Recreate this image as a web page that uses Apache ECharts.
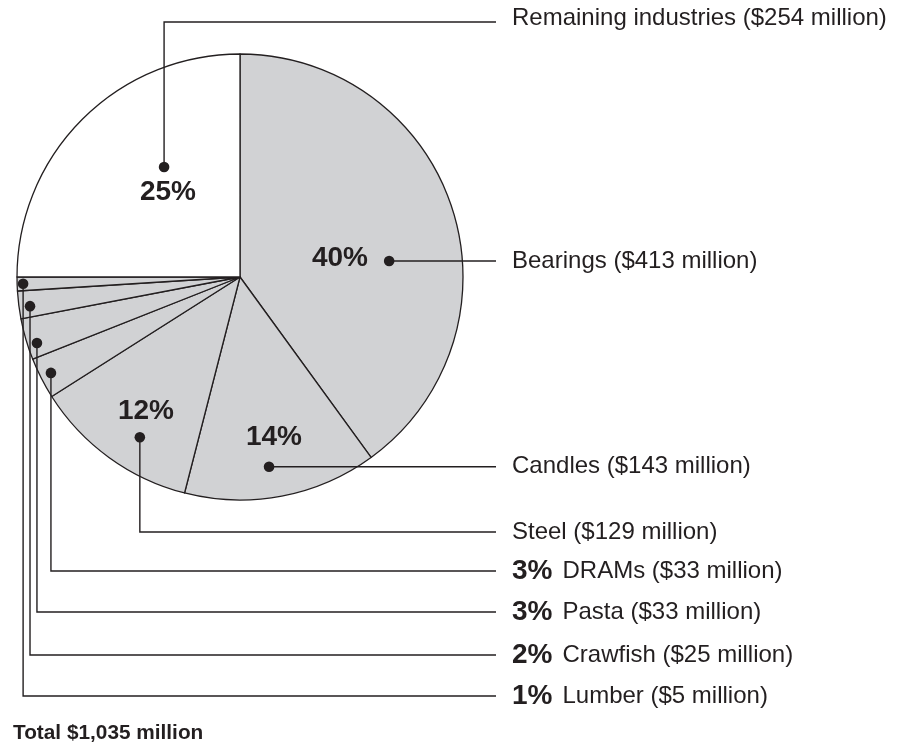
<!DOCTYPE html>
<html><head><meta charset="utf-8">
<script src="https://cdn.jsdelivr.net/npm/echarts@6/dist/echarts.min.js"></script>
<style>html,body{margin:0;padding:0;background:#fff}#c{width:897px;height:746px}</style>
</head><body><div id="c"></div>
<script>
// ---- data ----
const categories = ['Bearings','Candles','Steel','DRAMs','Pasta','Crawfish','Lumber','Remaining industries'];
const millions = [413,143,129,33,33,25,5,254];
const percents = [40,14,12,3,3,2,1,25];
const totalLabel = 'Total $1,035 million';

// ---- layout (annotation placement) ----
const CX = 240, CY = 277, R = 223;
const INK = '#231f20';
const GRAY = '#d1d2d4';
const FONT = '"Liberation Sans", Arial, Helvetica, sans-serif';
const dotPolar = [[83.9,150],[171.3,192],[212,189],[243.1,212],[252,213.5],[262.1,212],[268.2,217],[325.4,133.7]];
const labelLineY = [null,null,532,571,612,655,696,22];
const textShift = [0,0,0,0,0,0,0,-4];
const pctInside = [[340,258],[274,437],[146,411],null,null,null,null,[168,192]];
const LINE_END = 496, TEXT_X = 512;

const graphics = [];
categories.forEach((name, i) => {
  const [ang, d] = dotPolar[i];
  const a = ang * Math.PI / 180;
  const px = CX + d * Math.sin(a), py = CY - d * Math.cos(a);
  const ly = labelLineY[i] == null ? py : labelLineY[i];
  const pts = labelLineY[i] == null ? [[px,py],[LINE_END,py]] : [[px,py],[px,ly],[LINE_END,ly]];
  graphics.push({type:'polyline', z:100, shape:{points:pts}, style:{stroke:INK, lineWidth:1.4, fill:null}});
  graphics.push({type:'circle', z:101, shape:{cx:px, cy:py, r:5.3}, style:{fill:INK}});
  const txt = name + ' ($' + millions[i] + ' million)';
  if (pctInside[i]) {
    graphics.push({type:'text', z:102, x:TEXT_X, y:ly + textShift[i],
      style:{text:txt, fill:INK, font:'24px ' + FONT, verticalAlign:'middle'}});
    graphics.push({type:'text', z:102, x:pctInside[i][0], y:pctInside[i][1],
      style:{text:percents[i] + '%', fill:INK, font:'bold 28px ' + FONT, align:'center', verticalAlign:'middle'}});
  } else {
    graphics.push({type:'text', z:102, x:TEXT_X, y:ly + textShift[i],
      style:{text:'{b|' + percents[i] + '%}{n|' + txt + '}', verticalAlign:'middle',
        rich:{b:{fontFamily:FONT, fontWeight:'bold', fontSize:28, fill:INK, color:INK},
              n:{fontFamily:FONT, fontSize:24, fill:INK, color:INK, padding:[0,0,0,10]}}}});
  }
});
graphics.push({type:'text', z:102, x:13, y:733,
  style:{text:totalLabel, fill:INK, font:'bold 20.8px ' + FONT, verticalAlign:'middle'}});

const chart = echarts.init(document.getElementById('c'), null, {renderer:'canvas'});
chart.setOption({
  animation:false,
  backgroundColor:'#ffffff',
  series:[{
    type:'pie',
    center:[CX, CY],
    radius:R,
    startAngle:90,
    clockwise:true,
    label:{show:false},
    labelLine:{show:false},
    emphasis:{disabled:true},
    itemStyle:{borderColor:INK, borderWidth:1.3},
    data:categories.map((n,i)=>({name:n, value:percents[i], itemStyle:{color: i===7 ? '#ffffff' : GRAY}}))
  }],
  graphic:graphics
});
</script></body></html>
